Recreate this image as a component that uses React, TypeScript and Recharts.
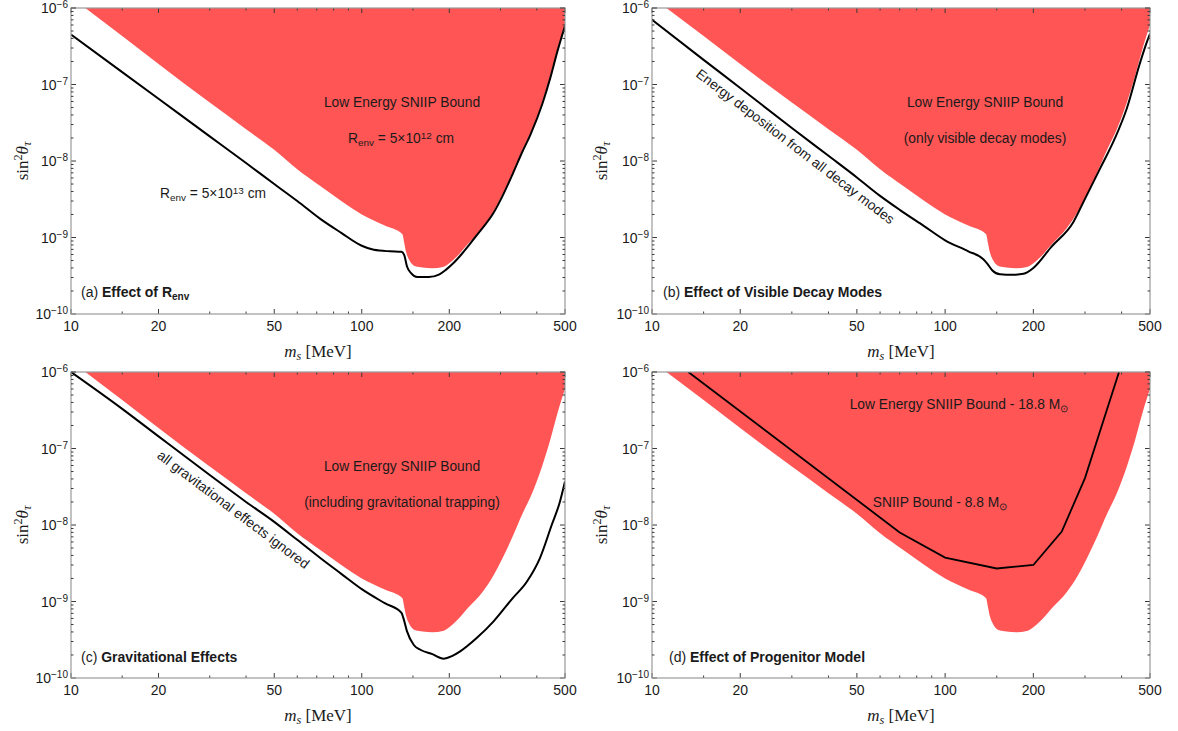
import React from 'react';
import { ComposedChart, Area, Line, XAxis, YAxis } from 'recharts';

const RED = '#ff5555';
const FRAME = '#9a9a9a';
const TICK = '#3a3a3a';
const INK = '#1a1a1a';
const SANS = '"Liberation Sans", Arial, sans-serif';
const SERIF = '"Liberation Serif", "Times New Roman", serif';

const CHART_W = 589;
const CHART_H = 365;
const PLOT_TOP = 10;
const PLOT_H = 306;

// axis ticks
const xMajorTicks = [10, 20, 50, 100, 200, 500];
const xMinorTicks = [15, 30, 40, 60, 70, 80, 90, 150, 300, 400];
const yMajorTicks = [1e-10, 1e-9, 1e-8, 1e-7, 1e-6];
const yExponents = ['\u221210', '\u22129', '\u22128', '\u22127', '\u22126'];
const yMinorSteps = [2, 3, 4, 5, 6, 7, 8, 9];

const xTicks = [...xMajorTicks, ...xMinorTicks].sort((a, b) => a - b);
const yTicks = [
  ...yMajorTicks,
  ...yMajorTicks.slice(0, -1).flatMap((d) => yMinorSteps.map((s) => s * d)),
];

// low energy SNIIP bound (red region, lower edge) - same in all panels
const boundMass = [11.2, 15, 20, 30, 40, 50, 60, 72, 85, 100, 120, 138, 140, 142, 146, 153, 162, 175, 190, 200, 211, 230, 261, 284, 305, 330, 357, 380, 418, 445, 470, 485, 500];
const boundMix = [1e-6, 4.3e-7, 1.85e-7, 5.8e-8, 2.6e-8, 1.4e-8, 7.8e-9, 4.7e-9, 3.0e-9, 2.0e-9, 1.43e-9, 1.1e-9, 8.5e-10, 6.5e-10, 5e-10, 4.2e-10, 4.05e-10, 3.95e-10, 4.1e-10, 4.6e-10, 5.5e-10, 8e-10, 1.35e-9, 2.2e-9, 3.7e-9, 7e-9, 1.4e-8, 2.3e-8, 6e-8, 1.3e-7, 2.8e-7, 4.2e-7, 6e-7];

// (a) R_env = 5e13 cm
const renvMass = [10, 15, 20, 30, 40, 50, 60, 72, 85, 100, 110, 125, 137, 140, 143, 148, 155, 170, 185, 195, 205, 220, 250, 284, 305, 330, 357, 380, 418, 445, 470, 485, 500];
const renvMix = [4.5e-7, 1.45e-7, 6.5e-8, 2.1e-8, 9.4e-9, 5e-9, 3e-9, 1.75e-9, 1.15e-9, 7.8e-10, 6.9e-10, 6.6e-10, 6.5e-10, 5.9e-10, 4.2e-10, 3.4e-10, 3.05e-10, 3.05e-10, 3.3e-10, 3.8e-10, 4.5e-10, 6e-10, 1.1e-9, 2.1e-9, 3.5e-9, 6.7e-9, 1.33e-8, 2.2e-8, 5.6e-8, 1.22e-7, 2.65e-7, 4e-7, 5.8e-7];

// (b) energy deposition from all decay modes
const allModesMass = [10, 15, 20, 30, 40, 50, 60, 70, 85, 100, 120, 135, 139, 145, 154, 170, 185, 200, 230, 274, 300, 338, 380, 417, 460, 488, 500];
const allModesMix = [7e-7, 2.1e-7, 9e-8, 2.7e-8, 1.17e-8, 6.1e-9, 3.5e-9, 2.3e-9, 1.4e-9, 9.2e-10, 6.6e-10, 5.2e-10, 4.6e-10, 3.7e-10, 3.3e-10, 3.25e-10, 3.35e-10, 4e-10, 7.5e-10, 1.6e-9, 3.2e-9, 8e-9, 2e-8, 4.9e-8, 1.8e-7, 3.6e-7, 4.6e-7];

// (c) all gravitational effects ignored
const noGravMass = [10, 15, 20, 30, 40, 50, 60, 72, 85, 100, 120, 137, 139, 143, 151, 159, 175, 191, 205, 218, 250, 284, 330, 369, 410, 450, 480, 500];
const noGravMix = [1e-6, 3.3e-7, 1.44e-7, 4.5e-8, 2e-8, 1.1e-8, 6.4e-9, 3.7e-9, 2.3e-9, 1.45e-9, 9.5e-10, 7.1e-10, 6.1e-10, 4.1e-10, 2.7e-10, 2.34e-10, 2.05e-10, 1.79e-10, 1.95e-10, 2.23e-10, 3.4e-10, 5.5e-10, 1.1e-9, 1.8e-9, 3.7e-9, 1e-8, 2e-8, 3.7e-8];

// (d) SNIIP bound - 8.8 Msun
const lightMass = [13.3, 70, 100, 150, 200, 250, 300, 392];
const lightMix = [1e-6, 8e-9, 3.75e-9, 2.7e-9, 3e-9, 8.2e-9, 4.1e-8, 1e-6];

type Row = { m: number; bound?: number; line?: number };

function buildRows(lineMass: number[], lineMix: number[]): Row[] {
  const rows = new Map<number, Row>();
  boundMass.forEach((m, i) => rows.set(m, { m, bound: boundMix[i] }));
  lineMass.forEach((m, i) => rows.set(m, { ...(rows.get(m) ?? { m }), line: lineMix[i] }));
  return Array.from(rows.values()).sort((a, b) => a.m - b.m);
}

const XTick = (props: any) => {
  const { x, y, payload } = props;
  const v = payload.value as number;
  const major = xMajorTicks.includes(v);
  const len = major ? 5 : 2.5;
  return (
    <g>
      <line x1={x} x2={x} y1={y} y2={y - len} stroke={TICK} />
      <line x1={x} x2={x} y1={y - PLOT_H} y2={y - PLOT_H + len} stroke={TICK} />
      {major && (
        <text x={x} y={y + 17} textAnchor="middle" fontFamily={SANS} fontSize={14} fill={INK}>
          {v}
        </text>
      )}
    </g>
  );
};

const makeYTick = (plotW: number) => (props: any) => {
  const { x, y, payload } = props;
  const v = payload.value as number;
  const mi = yMajorTicks.indexOf(v);
  const major = mi >= 0;
  const len = major ? 5 : 2.5;
  return (
    <g>
      {v === 1e-6 && (
        <rect x={x} y={y} width={plotW} height={PLOT_H} fill="none" stroke={FRAME} strokeWidth={1.2} />
      )}
      <line x1={x} x2={x + len} y1={y} y2={y} stroke={TICK} />
      <line x1={x + plotW} x2={x + plotW - len} y1={y} y2={y} stroke={TICK} />
      {major && (
        <text x={x - 3} y={y + 5} textAnchor="end" fontFamily={SANS} fontSize={14} fill={INK}>
          <tspan>10</tspan>
          <tspan dy={-5} fontSize={10}>{yExponents[mi]}</tspan>
        </text>
      )}
    </g>
  );
};

type PanelProps = {
  left: number;
  top: number;
  plotLeft: number;
  plotRight: number;
  rows: Row[];
  curve: 'monotone' | 'linear';
};

function Panel({ left, top, plotLeft, plotRight, rows, curve }: PanelProps) {
  const plotW = plotRight - plotLeft;
  const YTick = makeYTick(plotW);
  return (
    <div style={{ position: 'absolute', left, top, width: CHART_W, height: CHART_H }}>
      <ComposedChart
        width={CHART_W}
        height={CHART_H}
        data={rows}
        margin={{ top: PLOT_TOP, right: CHART_W - plotRight, bottom: 0, left: 0 }}
      >
        <Area
          dataKey="bound"
          type="monotone"
          baseValue="dataMax"
          fill={RED}
          fillOpacity={1}
          stroke="none"
          connectNulls
          isAnimationActive={false}
        />
        <Line
          dataKey="line"
          type={curve}
          stroke="#000"
          strokeWidth={curve === 'linear' ? 1.8 : 2}
          dot={false}
          connectNulls
          isAnimationActive={false}
        />
        <XAxis
          dataKey="m"
          type="number"
          scale="log"
          domain={[10, 500]}
          allowDataOverflow
          ticks={xTicks}
          interval={0}
          height={CHART_H - PLOT_TOP - PLOT_H}
          tickSize={0}
          tickMargin={0}
          axisLine={false}
          tickLine={false}
          tick={(p: any) => <XTick {...p} />}
        />
        <YAxis
          type="number"
          scale="log"
          domain={[1e-10, 1e-6]}
          allowDataOverflow
          ticks={yTicks}
          interval={0}
          width={plotLeft}
          tickSize={0}
          tickMargin={0}
          axisLine={false}
          tickLine={false}
          tick={(p: any) => <YTick {...p} />}
        />
      </ComposedChart>
    </div>
  );
}

const Note = ({ x, y, children, rotate = 0, alignLeft = false, size = 13.8 }: any) => (
  <div
    style={{
      position: 'absolute',
      left: x,
      top: y,
      transform: `translate(${alignLeft ? '0' : '-50%'}, -50%) rotate(${rotate}deg)`,
      whiteSpace: 'nowrap',
      fontFamily: SANS,
      fontSize: size,
      lineHeight: 1,
      color: INK,
    }}
  >
    {children}
  </div>
);

const sub = { fontSize: '0.72em', verticalAlign: '-0.25em', lineHeight: 0 };
const sup = { fontSize: '0.72em', verticalAlign: '0.45em', lineHeight: 0 };

const XLabel = ({ x, y }: { x: number; y: number }) => (
  <div style={{ position: 'absolute', left: x, top: y, transform: 'translate(-50%, -50%)', fontFamily: SERIF, fontSize: 17, lineHeight: 1, whiteSpace: 'nowrap', color: INK }}>
    <i>m</i>
    <i style={sub}>s</i> [MeV]
  </div>
);

const YLabel = ({ x, y }: { x: number; y: number }) => (
  <div style={{ position: 'absolute', left: x, top: y, transform: 'translate(-50%, -50%) rotate(-90deg)', fontFamily: SERIF, fontSize: 17, lineHeight: 1, whiteSpace: 'nowrap', color: INK }}>
    sin<span style={sup}>2</span>
    <i>θ</i>
    <i style={sub}>τ</i>
  </div>
);

const Caption = ({ x, y, tag, children }: any) => (
  <Note x={x} y={y} alignLeft size={14}>
    {tag} <b>{children}</b>
  </Note>
);

export default function App() {
  return (
    <div style={{ position: 'absolute', left: 0, top: 0, width: 1178, height: 731, background: '#fff', overflow: 'hidden' }}>
      <Panel left={0} top={-2} plotLeft={71} plotRight={565} rows={buildRows(renvMass, renvMix)} curve="monotone" />
      <Panel left={589} top={-2} plotLeft={63} plotRight={561} rows={buildRows(allModesMass, allModesMix)} curve="monotone" />
      <Panel left={0} top={362} plotLeft={71} plotRight={565} rows={buildRows(noGravMass, noGravMix)} curve="monotone" />
      <Panel left={589} top={362} plotLeft={63} plotRight={561} rows={buildRows(lightMass, lightMix)} curve="linear" />

      {/* axis titles */}
      <XLabel x={318} y={351} />
      <XLabel x={901} y={351} />
      <XLabel x={318} y={715} />
      <XLabel x={901} y={715} />
      <YLabel x={22} y={161} />
      <YLabel x={601} y={161} />
      <YLabel x={22} y={525} />
      <YLabel x={601} y={525} />

      {/* (a) */}
      <Note x={402} y={103}>Low Energy SNIIP Bound</Note>
      <Note x={401} y={139}>
        R<span style={sub}>env</span> = 5×10<span style={sup}>12</span> cm
      </Note>
      <Note x={213} y={194}>
        R<span style={sub}>env</span> = 5×10<span style={sup}>13</span> cm
      </Note>
      <Caption x={81} y={292} tag="(a)">
        Effect of R<span style={sub}>env</span>
      </Caption>

      {/* (b) */}
      <Note x={985} y={103}>Low Energy SNIIP Bound</Note>
      <Note x={985} y={139}>(only visible decay modes)</Note>
      <Note x={795} y={147} rotate={37.4}>Energy deposition from all decay modes</Note>
      <Caption x={663} y={292} tag="(b)">Effect of Visible Decay Modes</Caption>

      {/* (c) */}
      <Note x={402} y={467}>Low Energy SNIIP Bound</Note>
      <Note x={402} y={503}>(including gravitational trapping)</Note>
      <Note x={233} y={510} rotate={37}>all gravitational effects ignored</Note>
      <Caption x={81} y={657} tag="(c)">Gravitational Effects</Caption>

      {/* (d) */}
      <Note x={959} y={405}>
        Low Energy SNIIP Bound - 18.8 M<span style={sub}>⊙</span>
      </Note>
      <Note x={940} y={503}>
        SNIIP Bound - 8.8 M<span style={sub}>⊙</span>
      </Note>
      <Caption x={669} y={657} tag="(d)">Effect of Progenitor Model</Caption>
    </div>
  );
}
